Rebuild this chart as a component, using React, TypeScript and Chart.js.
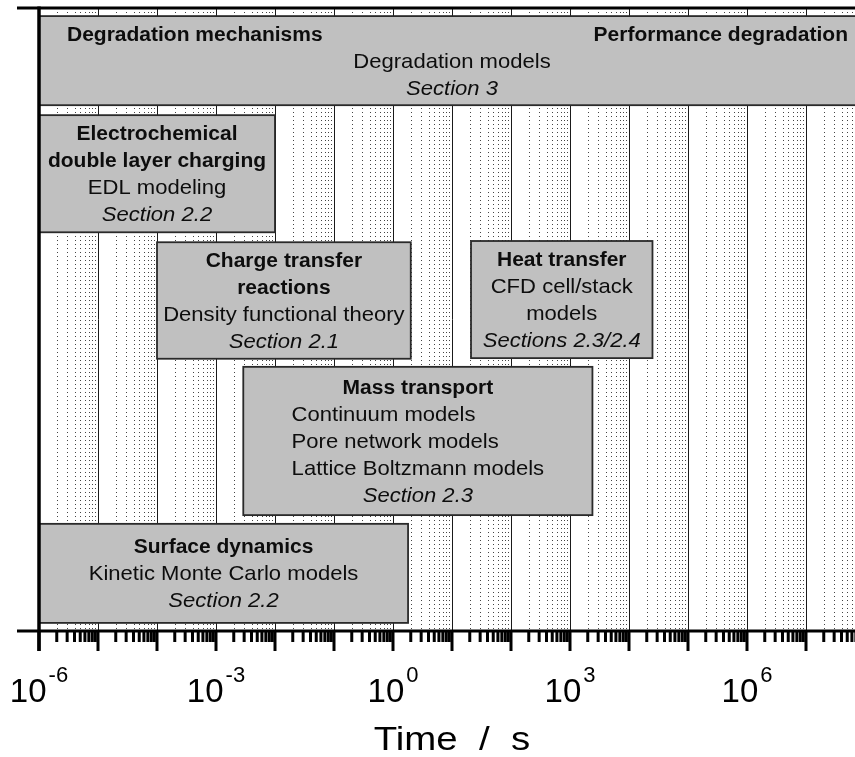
import { useEffect, useRef } from "react";
import { Chart, registerables } from "chart.js";

Chart.register(...registerables);

const FONT = '"Liberation Sans", Arial, Helvetica, sans-serif';

// x axis (time, seconds, log scale)
const X_MIN = 1e-6;
const X_MAX = 1e8;
const labeledExponents = [-6, -3, 0, 3, 6];
const minorMultipliers = [2, 3, 4, 5, 6, 7, 8, 9];
const axisTitle = "Time  /  s";

// boxes (x in seconds, y in arbitrary 0..100 units)
const boxNames = [
  "Degradation",
  "EDL",
  "Charge transfer",
  "Heat transfer",
  "Mass transport",
  "Surface dynamics",
];
const boxXStart = [1e-6, 1e-6, 1e-4, 21, 2.9e-3, 1e-6];
const boxXEnd = [1e8, 1e-2, 2.0, 2.5e4, 2.4e3, 1.8];
const boxYTop = [98.7, 82.8, 62.4, 62.6, 42.4, 17.2];
const boxYBottom = [84.4, 64.0, 43.7, 43.8, 18.6, 1.3];

// text lines: [style, text]; b=bold, n=normal, i=italic, L/R=bold left/right, k=normal block-left
const boxLines: [string, string][][][] = [
  [
    [["L", "Degradation mechanisms"], ["R", "Performance degradation"]],
    [["n", "Degradation models"]],
    [["i", "Section 3"]],
  ],
  [
    [["b", "Electrochemical"]],
    [["b", "double layer charging"]],
    [["n", "EDL modeling"]],
    [["i", "Section 2.2"]],
  ],
  [
    [["b", "Charge transfer"]],
    [["b", "reactions"]],
    [["n", "Density functional theory"]],
    [["i", "Section 2.1"]],
  ],
  [
    [["b", "Heat transfer"]],
    [["n", "CFD cell/stack"]],
    [["n", "models"]],
    [["i", "Sections 2.3/2.4"]],
  ],
  [
    [["b", "Mass transport"]],
    [["k", "Continuum models"]],
    [["k", "Pore network models"]],
    [["k", "Lattice Boltzmann models"]],
    [["i", "Section 2.3"]],
  ],
  [
    [["b", "Surface dynamics"]],
    [["n", "Kinetic Monte Carlo models"]],
    [["i", "Section 2.2"]],
  ],
];

function fontFor(style: string) {
  if (style === "b" || style === "L" || style === "R") return `bold 20px ${FONT}`;
  if (style === "i") return `italic 21px ${FONT}`;
  return `21px ${FONT}`;
}
function stretchFor(style: string) {
  return 1.05;
}

function drawStretched(
  ctx: CanvasRenderingContext2D,
  text: string,
  x: number,
  y: number,
  align: "left" | "center" | "right",
  font: string,
  sx: number
) {
  ctx.save();
  ctx.font = font;
  const w = ctx.measureText(text).width * sx;
  let lx = x;
  if (align === "center") lx = x - w / 2;
  else if (align === "right") lx = x - w;
  ctx.translate(lx, y);
  ctx.scale(sx, 1);
  ctx.textAlign = "left";
  ctx.textBaseline = "alphabetic";
  ctx.fillText(text, 0, 0);
  ctx.restore();
}

const timelinePlugin = {
  id: "timeline",
  afterDraw(chart: any) {
    const ctx: CanvasRenderingContext2D = chart.ctx;
    const xs = chart.scales.x;
    const ys = chart.scales.y;
    const area = chart.chartArea;
    const top = area.top;
    const bottom = area.bottom;
    const left = area.left;
    const W = chart.width;

    ctx.save();
    // minor dotted grid
    const minExp = Math.round(Math.log10(X_MIN));
    const maxExp = Math.round(Math.log10(X_MAX));
    ctx.strokeStyle = "#444";
    ctx.lineWidth = 1;
    ctx.setLineDash([1, 3]);
    for (let e = minExp; e < maxExp; e++) {
      for (const m of minorMultipliers) {
        const px = Math.round(xs.getPixelForValue(m * Math.pow(10, e))) + 0.5;
        ctx.beginPath();
        ctx.moveTo(px, top);
        ctx.lineTo(px, bottom);
        ctx.stroke();
      }
    }
    ctx.setLineDash([]);
    // decade solid lines
    ctx.strokeStyle = "#1a1a1a";
    for (let e = minExp; e <= maxExp; e++) {
      const px = Math.round(xs.getPixelForValue(Math.pow(10, e))) + 0.5;
      ctx.beginPath();
      ctx.moveTo(px, top);
      ctx.lineTo(px, bottom);
      ctx.stroke();
    }

    // boxes
    for (let i = 0; i < boxNames.length; i++) {
      const x0 = xs.getPixelForValue(boxXStart[i]);
      const x1 = xs.getPixelForValue(boxXEnd[i]);
      const y0 = ys.getPixelForValue(boxYTop[i]);
      const y1 = ys.getPixelForValue(boxYBottom[i]);
      ctx.fillStyle = "#c0c0c0";
      ctx.fillRect(x0, y0, x1 - x0, y1 - y0);
      ctx.strokeStyle = "#2a2a2a";
      ctx.lineWidth = 1.8;
      ctx.strokeRect(x0, y0, x1 - x0, y1 - y0);

      const lines = boxLines[i];
      const n = lines.length;
      const cx = (x0 + x1) / 2;
      const cy = (y0 + y1) / 2;
      const lh = 27;
      const firstBase = cy - ((n - 1) * lh) / 2 + 7;
      // block-left width
      let blockW = 0;
      for (const line of lines)
        for (const [st, tx] of line)
          if (st === "k") {
            ctx.font = fontFor(st);
            blockW = Math.max(blockW, ctx.measureText(tx).width * stretchFor(st));
          }
      ctx.fillStyle = "#0d0d0d";
      lines.forEach((line, li) => {
        const yb = firstBase + li * lh;
        for (const [st, tx] of line) {
          const f = fontFor(st);
          const sx = stretchFor(st);
          if (st === "L") drawStretched(ctx, tx, x0 + 28, yb, "left", f, sx);
          else if (st === "R") drawStretched(ctx, tx, x1 - 17, yb, "right", f, sx);
          else if (st === "k") drawStretched(ctx, tx, cx - blockW / 2, yb, "left", f, sx);
          else drawStretched(ctx, tx, cx, yb, "center", f, sx);
        }
      });
    }

    // axes lines
    ctx.strokeStyle = "#000";
    ctx.lineWidth = 3;
    ctx.beginPath();
    ctx.moveTo(17, top);
    ctx.lineTo(W, top);
    ctx.moveTo(17, bottom);
    ctx.lineTo(W, bottom);
    ctx.stroke();
    ctx.lineWidth = 3.5;
    ctx.beginPath();
    ctx.moveTo(left, top - 1.5);
    ctx.lineTo(left, bottom + 20);
    ctx.stroke();

    // ticks
    ctx.lineWidth = 3;
    for (let e = minExp; e <= maxExp; e++) {
      const px = xs.getPixelForValue(Math.pow(10, e));
      ctx.beginPath();
      ctx.moveTo(px, bottom);
      ctx.lineTo(px, bottom + 20);
      ctx.stroke();
      if (e < maxExp) {
        for (const m of minorMultipliers) {
          const mx = xs.getPixelForValue(m * Math.pow(10, e));
          ctx.beginPath();
          ctx.moveTo(mx, bottom);
          ctx.lineTo(mx, bottom + 11);
          ctx.stroke();
        }
      }
    }

    // tick labels
    ctx.fillStyle = "#000";
    ctx.textAlign = "left";
    ctx.textBaseline = "alphabetic";
    for (const e of labeledExponents) {
      const px = xs.getPixelForValue(Math.pow(10, e));
      const sup = String(e);
      ctx.font = `33px ${FONT}`;
      const wb = ctx.measureText("10").width;
      ctx.font = `22px ${FONT}`;
      const ws = ctx.measureText(sup).width;
      const start = px - (wb + 2 + ws) / 2;
      ctx.font = `33px ${FONT}`;
      ctx.fillText("10", start, bottom + 71);
      ctx.font = `22px ${FONT}`;
      ctx.fillText(sup, start + wb + 2, bottom + 51);
    }

    // axis title
    drawStretched(ctx, axisTitle, (xs.left + xs.right) / 2, bottom + 119, "center", `34px ${FONT}`, 1.13);
    ctx.restore();
  },
};

export default function App() {
  const ref = useRef<HTMLCanvasElement>(null);
  useEffect(() => {
    const canvas = ref.current!;
    const chart = new Chart(canvas, {
      type: "scatter",
      data: { datasets: [{ data: [] }] },
      options: {
        responsive: false,
        animation: false,
        devicePixelRatio: 1,
        layout: { padding: { left: 39, right: 10, top: 8, bottom: 126 } },
        plugins: { legend: { display: false }, tooltip: { enabled: false } },
        scales: {
          x: { type: "logarithmic", min: X_MIN, max: X_MAX, display: false },
          y: { type: "linear", min: 0, max: 100, display: false },
        },
      },
      plugins: [timelinePlugin],
    } as any);
    return () => chart.destroy();
  }, []);
  return (
    <div
      style={{
        position: "fixed",
        left: 0,
        top: 0,
        width: 855,
        height: 757,
        overflow: "hidden",
        background: "#fff",
      }}
    >
      <canvas ref={ref} width={875} height={757} style={{ display: "block" }} />
    </div>
  );
}
